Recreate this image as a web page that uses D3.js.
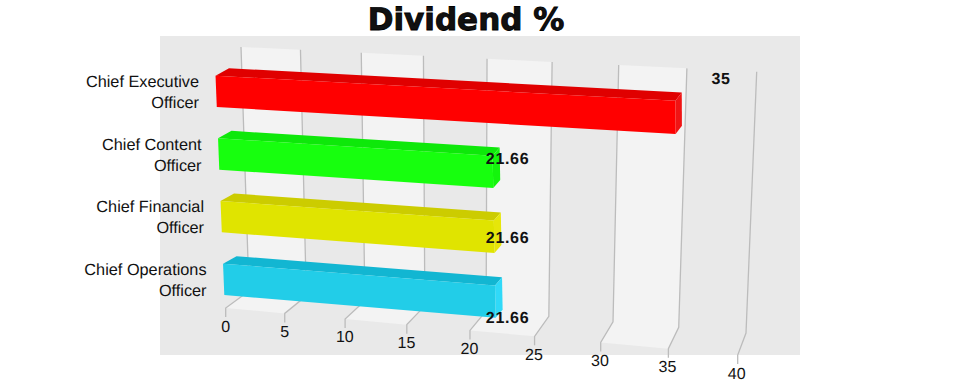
<!DOCTYPE html>
<html>
<head>
<meta charset="utf-8">
<script src="https://cdnjs.cloudflare.com/ajax/libs/d3/7.8.5/d3.min.js"></script>
<style>
html,body{margin:0;padding:0;background:#fff;overflow:hidden}
svg{display:block}
text{font-family:"Liberation Sans",Arial,sans-serif;fill:#111;text-rendering:geometricPrecision}
</style>
</head>
<body>
<svg id="chart" width="960" height="382"></svg>
<script>
const categories = ["Chief Executive Officer","Chief Content Officer","Chief Financial Officer","Chief Operations Officer"];
const dividend = [35, 21.66, 21.66, 21.66];
const tickValues = [0,5,10,15,20,25,30,35,40];
const bandPairs = [[0,5],[10,15],[20,25],[30,35]];
const frontColors = ["#ff0000","#17ff0e","#e0e400","#22cde8"];
const topColors = ["#e00000","#0ee80a","#cccc00","#12b6d2"];
const endColors = ["#f01414","#14f50c","#e6e60a","#30d9f8"];

const W = 960, H = 382;
const svg = d3.select("#chart");
const maxV = d3.max(tickValues);

// perspective foreshortening along the value axis
const K = 1.096;
const persp = v => v / (v + K * (maxV - v));

// guide planes, parametrised by the foreshortened value
const wallTopX = d3.scaleLinear([0,1],[241,756.7]);
const wallTopY = d3.scaleLinear([0,1],[47,71.7]);
const wallBotX = d3.scaleLinear([0,1],[249,746]);
const wallBotY = d3.scaleLinear([0,1],[291,333]);
const floorX   = d3.scaleLinear([0,1],[225.7,737.7]);
const floorY   = d3.scaleLinear([0,1],[308,355]);

// bar rows on the near plane
const rowY = d3.scaleBand(categories,[75.7,295]).paddingInner(0.5);
const nearLeft = d3.scaleLinear([75,295],[215.5,224.3]);
const nearRight = 747.5;
const nearSlope = d3.scaleLinear([75,295],[29,44]);
const depthDx = d3.scaleLinear([0,0.5,1],[13.5,7,6]);
const depthDy = d3.scaleLinear([0,1],[-7.5,-8.5]);

const near = (v,y) => {
  const t = persp(v);
  return [nearLeft(y) + t*(nearRight-nearLeft(y)), y + t*nearSlope(y)];
};
const far = (v,y) => {
  const t = persp(v), p = near(v,y);
  return [p[0]+depthDx(t), p[1]+depthDy(t)];
};

// flat 2D layout used for the value labels
const labelX = d3.scaleLinear([0,maxV],[160,800]);
const labelY = d3.scaleBand(categories,[36,355]);

// panel
svg.append("rect").attr("x",labelX(0)).attr("y",labelY.range()[0])
  .attr("width",labelX(maxV)-labelX(0)).attr("height",labelY.range()[1]-labelY.range()[0])
  .attr("fill","#e9e9e9");

const poly = pts => pts.map(p=>p.join(",")).join(" ");

// alternating bands
svg.append("g").selectAll("polygon").data(bandPairs).join("polygon")
  .attr("fill","#f3f3f3")
  .attr("points",([a,b])=>{
    const ta=persp(a), tb=persp(b);
    return poly([[wallTopX(ta),wallTopY(ta)],[wallTopX(tb),wallTopY(tb)],
                 [wallBotX(tb),wallBotY(tb)],[floorX(tb),floorY(tb)],
                 [floorX(ta),floorY(ta)],[wallBotX(ta),wallBotY(ta)]]);
  });

// grid lines with ticks
svg.append("g").selectAll("polyline").data(tickValues).join("polyline")
  .attr("fill","none").attr("stroke","#bcbcbc").attr("stroke-width",1.3)
  .attr("points",v=>{
    const t=persp(v);
    return poly([[wallTopX(t),wallTopY(t)],[wallBotX(t),wallBotY(t)],
                 [floorX(t),floorY(t)],[floorX(t),floorY(t)+9]]);
  });

svg.append("g").selectAll("text").data(tickValues).join("text")
  .attr("text-anchor","middle").attr("font-size",16)
  .attr("x",v=>floorX(persp(v))-persp(v)).attr("y",v=>floorY(persp(v))+23.5)
  .text(d=>d);

// 3D bars
const bars = svg.append("g").selectAll("g").data(categories).join("g");
bars.each(function(c,i){
  const g = d3.select(this), v = dividend[i];
  const y0 = rowY(c), y1 = y0 + rowY.bandwidth();
  g.append("polygon").attr("fill",topColors[i])
    .attr("points",poly([near(0,y0),far(0,y0),far(v,y0),near(v,y0)]));
  g.append("polygon").attr("fill",endColors[i])
    .attr("points",poly([near(v,y0),far(v,y0),far(v,y1),near(v,y1)]));
  g.append("polygon").attr("fill",frontColors[i])
    .attr("points",poly([near(0,y0),near(v,y0),near(v,y1),near(0,y1)]));
});

// category labels
const catG = svg.append("g").selectAll("text").data(categories).join("text")
  .attr("text-anchor","end").attr("font-size",16.3);
catG.each(function(c){
  const cut = c.lastIndexOf(" ");
  const mid = rowY(c)+rowY.bandwidth()/2;
  const x = nearLeft(rowY(c)) - 16.5;
  const t = d3.select(this);
  t.append("tspan").attr("x",x).attr("y",mid-4.5).text(c.slice(0,cut));
  t.append("tspan").attr("x",x).attr("y",mid+16.5).text(c.slice(cut+1));
});

// value labels
svg.append("g").selectAll("text").data(categories).join("text")
  .attr("text-anchor","middle").attr("font-size",16).attr("font-weight","bold")
  .attr("letter-spacing",0.7).attr("fill","#0a0a0a")
  .attr("x",(c,i)=>labelX(dividend[i])+1)
  .attr("y",c=>labelY(c)+labelY.bandwidth()/2+8)
  .text((c,i)=>dividend[i]);

// title
svg.append("text").attr("x",466).attr("y",30).attr("text-anchor","middle")
  .style("font-family","'DejaVu Sans',Verdana,sans-serif").attr("font-weight","bold")
  .attr("font-size",31).attr("stroke","#000").attr("stroke-width",0.9).attr("fill","#000")
  .text("Dividend %");
</script>
</body>
</html>
